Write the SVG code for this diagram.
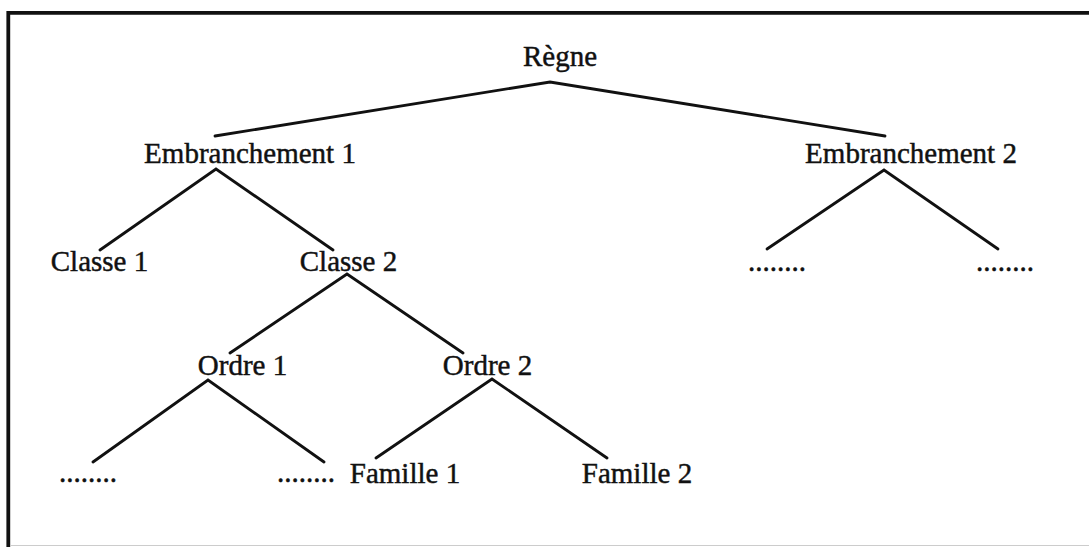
<svg xmlns="http://www.w3.org/2000/svg" width="1089" height="547" viewBox="0 0 1089 547">
<style>
text{font-family:"Liberation Serif","Times New Roman",serif;font-size:29px;fill:#111;stroke:#111;stroke-width:0.45px;}
.c{text-anchor:middle;}
.e{stroke:#111;stroke-width:2.8;fill:none;stroke-linecap:round;}
</style>
<rect width="1089" height="547" fill="#fff"/>
<g id="frame">
<path d="M1089 12.8 H8.3 V547" fill="none" stroke="#111" stroke-width="3.8"/>
<line x1="10" y1="545.5" x2="1089" y2="545.5" stroke="#ccc" stroke-width="1"/>
</g>
<g id="connectors">
<polyline class="e" points="215,136 550,82 885,136"/>
<polyline class="e" points="100,250 216,169 333,250"/>
<polyline class="e" points="767,249 884,170 998,249"/>
<polyline class="e" points="230,353 347,274 463,353"/>
<polyline class="e" points="93,462 208,380 324,462"/>
<polyline class="e" points="376,458 492,379 607,458"/>
</g>
<g id="regne"><text class="c" x="560" y="66">Règne</text></g>
<g id="embranchement1"><text class="c" x="250" y="163">Embranchement 1</text></g>
<g id="embranchement2"><text class="c" x="911" y="163">Embranchement 2</text></g>
<g id="classe1"><text class="c" x="99.5" y="271">Classe 1</text></g>
<g id="classe2"><text class="c" x="348.5" y="271">Classe 2</text></g>
<g id="e2-dots1"><text x="748" y="271">........</text></g>
<g id="e2-dots2"><text x="976" y="271">........</text></g>
<g id="ordre1"><text class="c" x="242.5" y="375">Ordre 1</text></g>
<g id="ordre2"><text class="c" x="487.5" y="375">Ordre 2</text></g>
<g id="o1-dots1"><text x="59" y="482">........</text></g>
<g id="o1-dots2"><text x="277" y="482">........</text></g>
<g id="famille1"><text class="c" x="405" y="483">Famille 1</text></g>
<g id="famille2"><text class="c" x="637" y="483">Famille 2</text></g>
</svg>
